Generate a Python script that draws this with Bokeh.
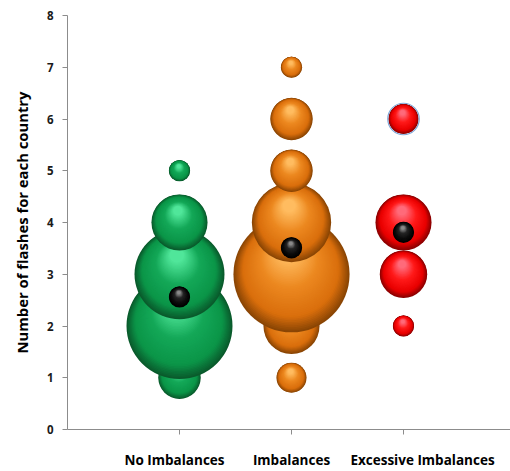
import math

from bokeh.embed import file_html
from bokeh.models import ColumnDataSource, FixedTicker, LinearAxis, Range1d
from bokeh.plotting import figure
from bokeh.resources import INLINE

# ---- data -------------------------------------------------------------
categories = ["No Imbalances", "Imbalances", "Excessive Imbalances"]
category_pos = [1, 2, 3]

no_imb_flashes = [1, 2, 3, 4, 5]
no_imb_countries = [4, 25, 18, 7, 1]

imb_flashes = [1, 2, 3, 4, 5, 6, 7]
imb_countries = [2, 7, 30, 14, 4, 4, 1]

exc_flashes = [2, 3, 4, 6]
exc_countries = [1, 5, 7, 2]

mean_flashes = [2.56, 3.51, 3.81]
mean_marker_size = [1, 1, 1]

y_ticks = [0, 1, 2, 3, 4, 5, 6, 7, 8]
y_title = "Number of flashes for each country"

# ---- geometry ---------------------------------------------------------
W, H = 510, 471
LEFT, TOP, BOTTOM, RIGHT = 67, 15, 41, 0
FRAME_W = W - LEFT - RIGHT
FRAME_H = H - TOP - BOTTOM
CAT_PX = 112             # screen pixels between categories
X_END = FRAME_W / CAT_PX
Y_END = 8
PX_X = X_END / FRAME_W   # data units per screen pixel
PX_Y = Y_END / FRAME_H
UNIT_DIAM = 21.2         # bubble diameter (px) for a size of 1


def _rgb(h):
    h = h.lstrip("#")
    return [int(h[i:i + 2], 16) for i in (0, 2, 4)]


def _shade(stops, t):
    for (t0, c0), (t1, c1) in zip(stops[:-1], stops[1:]):
        if t <= t1:
            u = 0 if t1 == t0 else (t - t0) / (t1 - t0)
            a, b = _rgb(c0), _rgb(c1)
            return "#%02x%02x%02x" % tuple(round(a[k] + (b[k] - a[k]) * u) for k in range(3))
    return stops[-1][1]


def sphere_source(xs, ys, sizes, stops, layers=44):
    """Stack of offset, shrinking discs that reads as a lit sphere."""
    data = dict(x=[], y=[], size=[], color=[])
    order = sorted(range(len(ys)), key=lambda i: ys[i])
    for i in order:
        r = UNIT_DIAM * math.sqrt(sizes[i]) / 2
        for k in range(layers):
            t = k / (layers - 1)
            f = 1 - 0.84 * t
            data["x"].append(xs[i] - 0.06 * r * t * PX_X)
            data["y"].append(ys[i] + 0.42 * r * t * PX_Y)
            data["size"].append(2 * r * f)
            data["color"].append(_shade(stops, t))
    return ColumnDataSource(data)


GREEN = [(0.0, "#0a5a2c"), (0.2, "#0b9548"), (0.6, "#14a858"), (1.0, "#50e69a")]
ORANGE = [(0.0, "#8a4504"), (0.2, "#d96e0c"), (0.6, "#ec8820"), (1.0, "#ffbc60")]
RED = [(0.0, "#8a0000"), (0.2, "#e80000"), (0.6, "#ff1a1a"), (1.0, "#ff6a7a")]
BLACK = [(0.0, "#000000"), (0.3, "#0c0c0c"), (0.7, "#262626"), (1.0, "#8a8a8a")]

# ---- figure -----------------------------------------------------------
p = figure(
    width=W, height=H,
    x_range=Range1d(0, X_END), y_range=Range1d(0, Y_END),
    output_backend="svg", toolbar_location=None,
    min_border_left=LEFT, min_border_right=RIGHT,
    min_border_top=TOP, min_border_bottom=BOTTOM,
)
p.outline_line_color = None
p.xgrid.visible = False
p.ygrid.visible = False
p.background_fill_color = "white"
p.border_fill_color = "white"

series = [
    (category_pos[0], no_imb_flashes, no_imb_countries, GREEN),
    (category_pos[1], imb_flashes, imb_countries, ORANGE),
    (category_pos[2], exc_flashes, exc_countries, RED),
]
for xc, ys, sizes, stops in series:
    src = sphere_source([xc] * len(ys), ys, sizes, stops)
    p.scatter(x="x", y="y", size="size", fill_color="color",
              line_color=None, source=src)

# thin blue rim around the top red bubble
top_i = exc_flashes.index(max(exc_flashes))
p.scatter(x=[category_pos[2]], y=[exc_flashes[top_i]],
          size=[UNIT_DIAM * math.sqrt(exc_countries[top_i]) + 1.5],
          fill_color=None, line_color="#7fa6d6", line_width=1.2)

mean_src = sphere_source(category_pos, mean_flashes, mean_marker_size, BLACK, layers=24)
p.scatter(x="x", y="y", size="size", fill_color="color", line_color=None, source=mean_src)

FONT = "Open Sans"
AX = "#8c8c8c"

ya = p.yaxis[0]
ya.ticker = FixedTicker(ticks=y_ticks)
ya.axis_label = y_title
ya.axis_label_text_font = FONT
ya.axis_label_text_font_style = "bold"
ya.axis_label_text_font_size = "14.8px"
ya.axis_label_text_color = "#000000"
ya.axis_label_standoff = 12
ya.major_label_text_font = FONT
ya.major_label_text_font_style = "bold"
ya.major_label_text_font_size = "11.5px"
ya.major_label_text_color = "#1a1a1a"
ya.major_label_standoff = 9
ya.major_tick_out = 5
ya.major_tick_in = 0
ya.minor_tick_out = 0
ya.minor_tick_in = 0
ya.axis_line_color = AX
ya.major_tick_line_color = AX

xa = p.xaxis[0]
xa.ticker = FixedTicker(ticks=category_pos)
xa.major_label_overrides = {c: "" for c in category_pos}
xa.major_label_standoff = 0
xa.major_tick_out = 5
xa.major_tick_in = 0
xa.minor_tick_out = 0
xa.minor_tick_in = 0
xa.axis_line_color = AX
xa.major_tick_line_color = AX

# category names, on a pixel-scaled axis so each can sit a little off its tick
name_shift = [-5, 0, 19]
p.extra_x_ranges = {"names": Range1d(0, FRAME_W)}
name_ticks = [c * CAT_PX + dx for c, dx in zip(category_pos, name_shift)]
na = LinearAxis(x_range_name="names")
na.ticker = FixedTicker(ticks=name_ticks)
na.major_label_overrides = {t: n for t, n in zip(name_ticks, categories)}
na.major_label_text_font = FONT
na.major_label_text_font_style = "bold"
na.major_label_text_font_size = "13.5px"
na.major_label_text_color = "#000000"
na.major_label_standoff = 16
na.major_tick_out = 0
na.major_tick_in = 0
na.minor_tick_out = 0
na.minor_tick_in = 0
na.axis_line_color = None
na.major_tick_line_color = None
p.add_layout(na, "below")

open("out.html", "w").write(file_html(p, INLINE))
